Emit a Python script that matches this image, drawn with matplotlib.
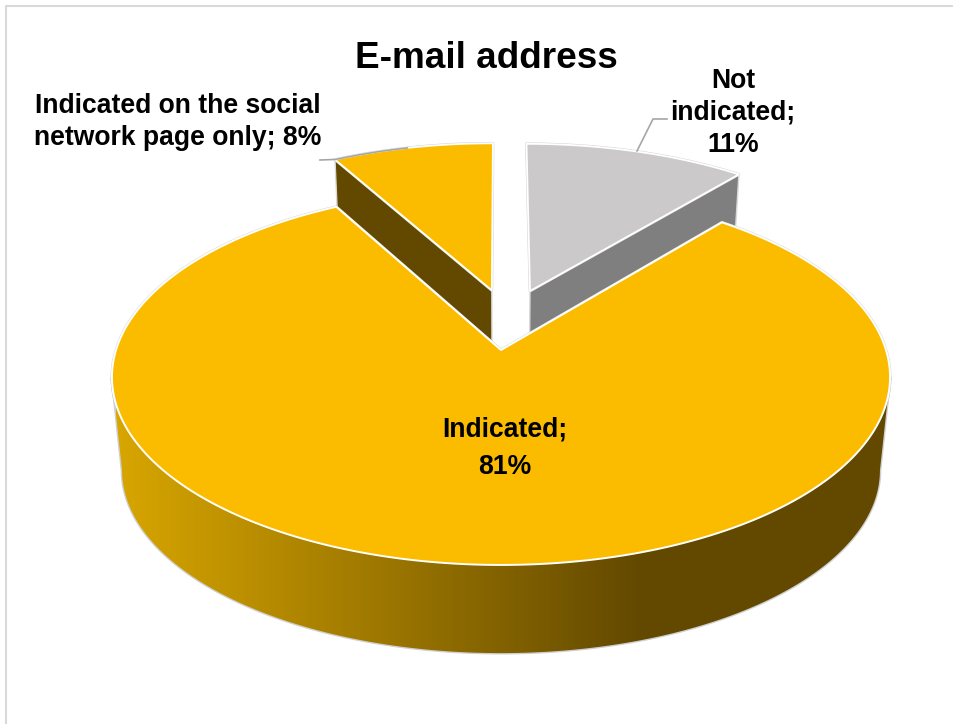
import matplotlib
matplotlib.use("Agg")
import matplotlib.pyplot as plt
from matplotlib.patches import Polygon
import numpy as np

title = "E-mail address"
labels = ["Not\nindicated", "Indicated", "Indicated on the social\nnetwork page only"]
values = [11, 81, 8]

face_colors = ["#CBC9CA", "#FBBC00", "#FBBC00"]
wall_colors = ["#7F7F7F", None, "#634900"]
# how far each slice is pulled out of the pie, in disc units
offsets = [(0.079, -0.336), (0.0, 0.0), (-0.025, -0.34)]

# perspective of the top and bottom discs
TOP = dict(cy=350, a=385, b=184)
BOTTOM = dict(cy=444, a=375, b=179)
CX = 501
K = 0.144


def project(u, v, disc):
    w = 1 - K * v
    return CX + disc["a"] * u / w, disc["cy"] + disc["b"] * v / w


def rim(start, end, disc, offset=(0.0, 0.0), n=240):
    theta = np.radians(np.linspace(start, end, n))
    x, y = project(np.sin(theta) + offset[0], -np.cos(theta) + offset[1], disc)
    return np.column_stack([x, y])


def outlined(ax, points, face, zorder, white=1.3):
    # light grey halo under a thin white edge
    ax.add_patch(Polygon(points, closed=True, fc="none", ec="#D4D4D4", lw=2.0, joinstyle="round", zorder=zorder))
    ax.add_patch(Polygon(points, closed=True, fc=face, ec="white", lw=white, joinstyle="round", zorder=zorder + 0.1))


fig = plt.figure(figsize=(9.54, 7.24), dpi=100)
ax = fig.add_axes([0, 0, 1, 1])
ax.set_axis_off()

plt.rcParams["font.family"] = ["Liberation Sans", "DejaVu Sans"]

# chart frame
ax.plot([6, 6, 954], [724, 6, 6], color="#D9D9D9", lw=1.5, zorder=1)

edges = np.cumsum([0] + values) * 3.6

# the two pulled out slices sit behind the big one
for i in [0, 2]:
    start, end = edges[i], edges[i + 1]
    off = offsets[i]
    top_arc = rim(start, end, TOP, off)
    tip = np.array(project(off[0], off[1], TOP))
    tip_low = np.array(project(off[0], off[1], BOTTOM))
    if i == 0:
        corner, corner_low = top_arc[-1], rim(end, end, BOTTOM, off, n=1)[0]
    else:
        corner, corner_low = top_arc[0], rim(start, start, BOTTOM, off, n=1)[0]
    wall = np.array([tip, corner, corner_low, tip_low])
    ax.add_patch(Polygon(wall, closed=True, fc=wall_colors[i], ec="#D9D9D9", lw=1.0, joinstyle="round", zorder=2))
    outlined(ax, np.vstack([tip, top_arc]), face_colors[i], 3)

# big slice: rim with a left to right shading
start, end = edges[1], edges[2]
main_arc = rim(start, end, TOP)
tip = np.array(project(0, 0, TOP))
ax.add_patch(Polygon(np.vstack([tip, main_arc]), closed=True, fc="none", ec="#D4D4D4", lw=2.0, zorder=4))

side_from, side_to = 98.3, 261.7
side_top = rim(side_from, side_to, TOP)
side_low = rim(side_from, side_to, BOTTOM)
side = np.vstack([side_top, side_low[::-1]])
side_patch = Polygon(side, closed=True, fc="none", ec="#CFCFCF", lw=2.0, zorder=4.5)
ax.add_patch(side_patch)
shade_x = np.linspace(0, 1, 256)
ramp = np.clip(shade_x / 0.68, 0, 1)[None, :, None]
light = np.array([216, 166, 0])[None, None, :] / 255
dark = np.array([99, 73, 0])[None, None, :] / 255
shade = ax.imshow(light + (dark - light) * ramp, extent=[116, 888, 660, 370], aspect="auto", zorder=4.6)
shade.set_clip_path(Polygon(side, closed=True, transform=ax.transData))

ax.add_patch(Polygon(np.vstack([tip, main_arc]), closed=True, fc=face_colors[1], ec="white", lw=1.4,
                     joinstyle="round", zorder=5))

ax.set_xlim(0, 954)
ax.set_ylim(724, 0)

# leader lines
ax.plot([667, 653, 637], [119, 119, 151], color="#A6A6A6", lw=1.2, zorder=6)
social_arc = rim(edges[2], edges[2] + 13.5, TOP, offsets[2])
ax.plot(np.r_[320, social_arc[:, 0]], np.r_[160, social_arc[:, 1]], color="#A6A6A6", lw=1.2, zorder=6)

ax.text(486.5, 58, title, ha="center", va="center", fontsize=26.6, fontweight="bold", color="black", zorder=7)

text_style = dict(ha="center", va="center", fontsize=19.1, fontweight="bold", color="black", zorder=7)
ax.text(733, 113, f"{labels[0]};\n{values[0]}%", linespacing=1.3, **text_style)
ax.text(505, 448, f"{labels[1]};\n{values[1]}%", linespacing=1.58, **text_style)
ax.text(178, 122, f"{labels[2]}; {values[2]}%", linespacing=1.3, **text_style)

fig.savefig("out.png", dpi=100)
